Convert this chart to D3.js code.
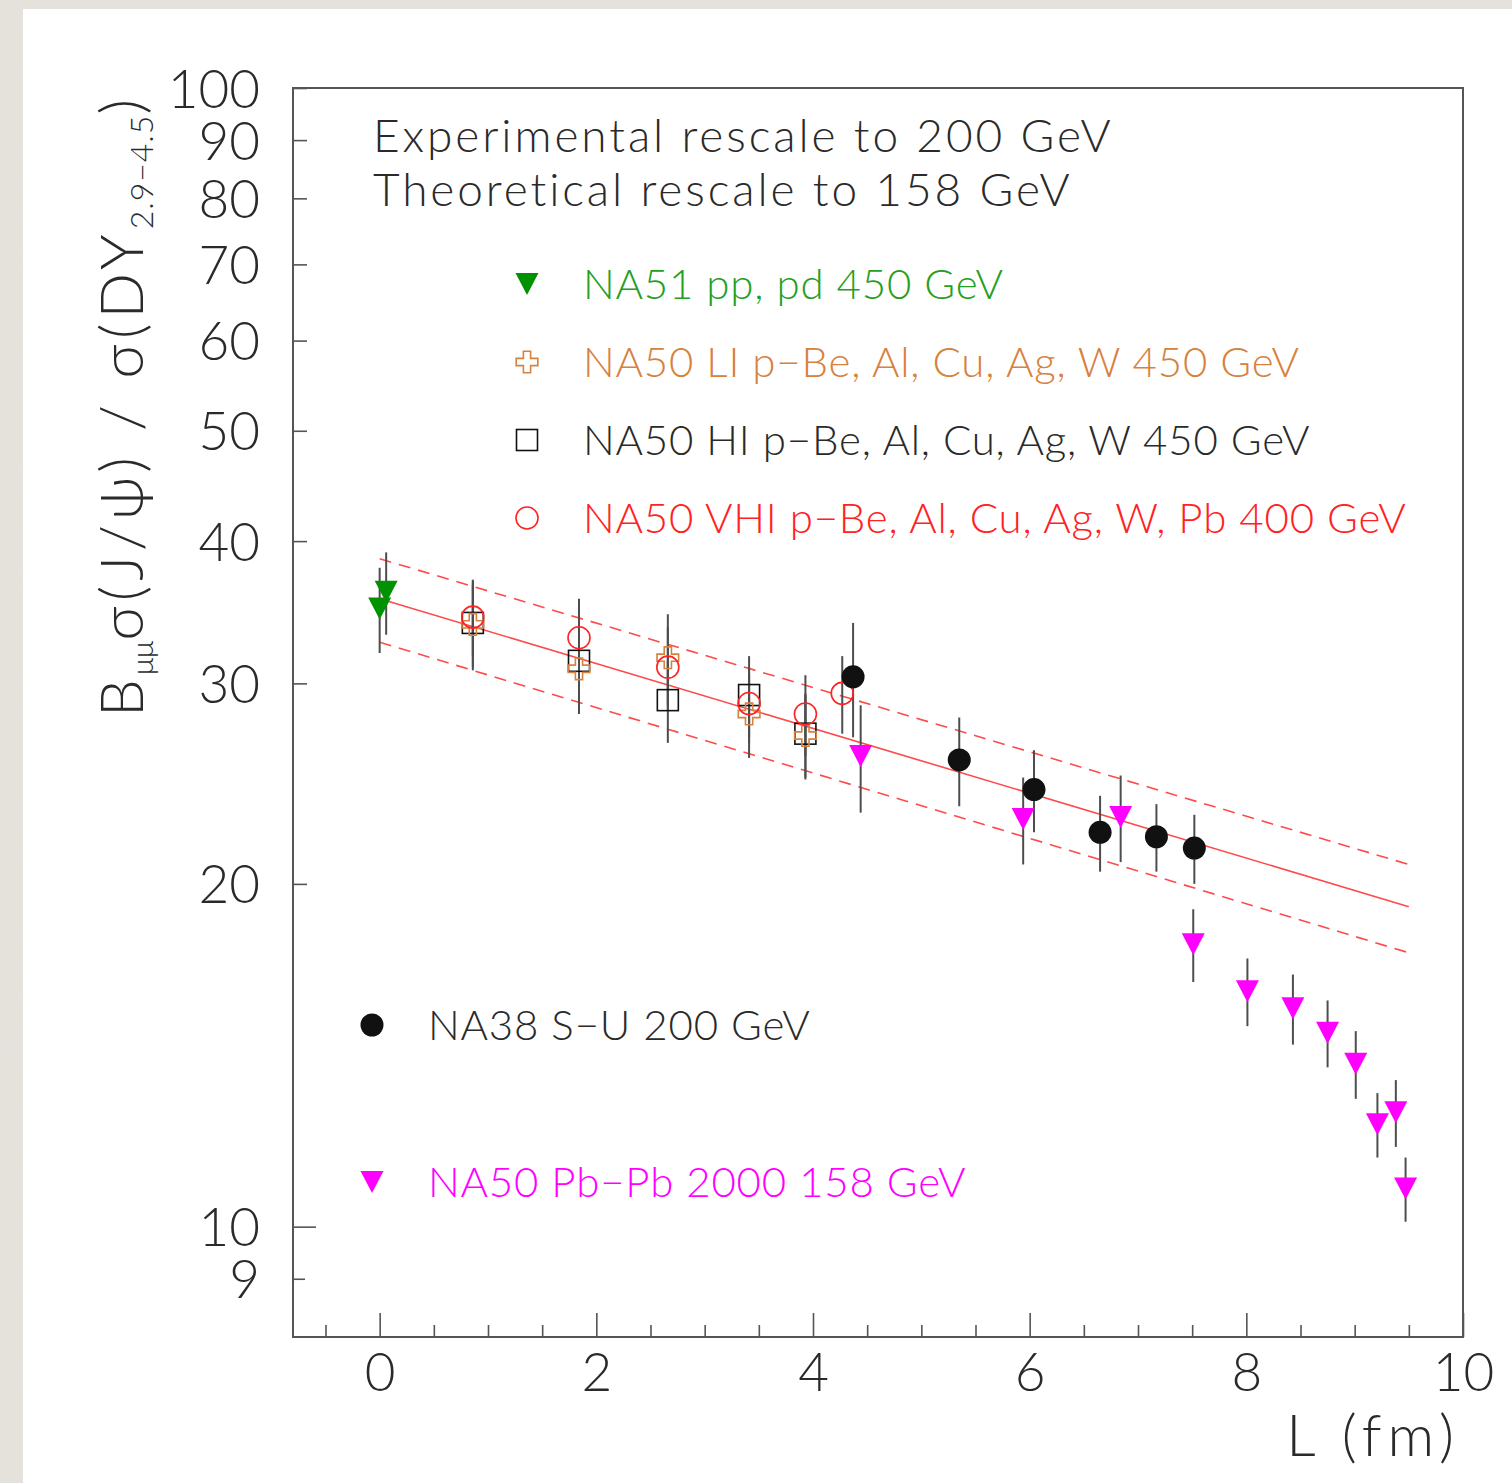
<!DOCTYPE html>
<html>
<head>
<meta charset="utf-8">
<script src="https://cdn.jsdelivr.net/npm/d3@7"></script>
<style>
  html, body { margin: 0; padding: 0; background: #ffffff; }
  svg { display: block; }
</style>
</head>
<body>
<script>
// ---- Axis settings ----
const xDomain = [-0.8, 10];
const yDomain = [8, 100];
const xTickValues = d3.range(-0.5, 10.01, 0.5);
const xTickLabels = [0, 2, 4, 6, 8, 10];
const yTickValues = [9, 10, 20, 30, 40, 50, 60, 70, 80, 90, 100];
const yTickLabels = [9, 10, 20, 30, 40, 50, 60, 70, 80, 90, 100];

// ---- NA51 pp, pd 450 GeV ----
const na51L = [0.00, 0.06];
const na51Y = [34.9, 36.1];
const na51E = [3.0, 3.0];

// ---- NA50 LI p-A 450 GeV (Be, Al, Cu, Ag, W) ----
const liL = [0.86, 1.84, 2.66, 3.41, 3.93];
const liY = [33.8, 30.9, 31.6, 28.2, 27.0];
const liE = [2.8, 2.7, 2.9, 2.4, 2.3];

// ---- NA50 HI p-A 450 GeV (Be, Al, Cu, Ag, W) ----
const hiL = [0.86, 1.84, 2.66, 3.41, 3.93];
const hiY = [33.9, 31.4, 29.0, 29.3, 27.1];
const hiE = [3.1, 2.5, 2.4, 2.4, 2.3];

// ---- NA50 VHI p-A 400 GeV (Be, Al, Cu, Ag, W, Pb) ----
const vhiL = [0.86, 1.84, 2.66, 3.41, 3.93, 4.27];
const vhiY = [34.3, 32.9, 31.0, 28.8, 28.2, 29.4];
const vhiE = [2.6, 2.7, 2.6, 2.2, 2.3, 2.3];

// ---- NA38 S-U 200 GeV ----
const na38L = [4.37, 5.35, 6.04, 6.65, 7.17, 7.52];
const na38Y = [30.4, 25.7, 24.2, 22.2, 22.0, 21.5];
const na38E = [3.5, 2.3, 2.0, 1.7, 1.5, 1.5];

// ---- NA50 Pb-Pb 2000 158 GeV ----
const pbL = [4.44, 5.94, 6.84, 7.51, 8.01, 8.43, 8.75, 9.01, 9.21, 9.38, 9.47];
const pbY = [25.9, 22.8, 22.9, 17.7, 16.1, 15.55, 14.8, 13.9, 12.3, 12.6, 10.8];
const pbE = [2.8, 2.0, 2.0, 1.3, 1.1, 1.1, 1.0, 0.95, 0.8, 0.85, 0.7];

// ---- Absorption fit (exponential: straight on a log axis) and its band ----
const fitL = [0, 9.5];
const fitMid = [35.6, 19.1];
const fitHi = [38.6, 20.8];
const fitLo = [32.6, 17.4];

// ---- Text ----
const headerLines = ["Experimental rescale to 200 GeV", "Theoretical rescale to 158 GeV"];
const legendLabels = [
  "NA51 pp, pd 450 GeV",
  "NA50 LI p\u2212Be, Al, Cu, Ag, W 450 GeV",
  "NA50 HI p\u2212Be, Al, Cu, Ag, W 450 GeV",
  "NA50 VHI p\u2212Be, Al, Cu, Ag, W, Pb 400 GeV",
  "NA38 S\u2212U 200 GeV",
  "NA50 Pb\u2212Pb 2000 158 GeV"
];

// ---- Layout ----
const W = 1512, H = 1483;
const frame = { left: 293, right: 1463, top: 88, bottom: 1337 };
const FONT = "Lato, 'DejaVu Sans', sans-serif";
const WEIGHT = 300;
const C = {
  green: "#009200", greenText: "#23a023",
  orange: "#d7813f", black: "#111111",
  red: "#ff2222", magenta: "#ff00ff",
  fit: "#ff4a4a", err: "#4d4d4d", axis: "#555555", text: "#2a2a2a"
};
const MS = 23; // marker size

const svg = d3.select("body").append("svg").attr("width", W).attr("height", H);

// paper-like surround and white page
const defs = svg.append("defs");
const f = defs.append("filter").attr("id", "paper").attr("x", 0).attr("y", 0).attr("width", "100%").attr("height", "100%");
f.append("feTurbulence").attr("type", "fractalNoise").attr("baseFrequency", 0.05).attr("numOctaves", 3).attr("seed", 4).attr("result", "n");
f.append("feColorMatrix").attr("in", "n").attr("type", "matrix")
  .attr("values", "0 0 0 0 0.78  0 0 0 0 0.77  0 0 0 0 0.74  0.35 0 0 0 0");
svg.append("rect").attr("width", W).attr("height", H).attr("fill", "#e5e2dc");
svg.append("rect").attr("width", W).attr("height", H).attr("filter", "url(#paper)").attr("opacity", 0.45);
svg.append("rect").attr("x", 23).attr("y", 9).attr("width", W - 23).attr("height", H - 9).attr("fill", "#ffffff");

const x = d3.scaleLinear().domain(xDomain).range([frame.left, frame.right]);
const y = d3.scaleLog().domain(yDomain).range([frame.bottom, frame.top]);

// ---- Axes ----
const fmtX = d => (xTickLabels.includes(d) ? String(d) : "");
const xAxis = d3.axisBottom(x).tickValues(xTickValues).tickSize(-12).tickPadding(16).tickFormat(fmtX);
const gx = svg.append("g").attr("transform", `translate(0,${frame.bottom})`).call(xAxis);
gx.selectAll(".tick line").attr("y2", d => (Number.isInteger(d) && d % 2 === 0 ? -24 : -12));
gx.selectAll(".tick text").attr("font-size", 53).attr("font-family", FONT).attr("font-weight", WEIGHT)
  .attr("fill", C.text).attr("dy", "0.72em");

const fmtY = d => (yTickLabels.includes(d) ? String(d) : "");
const yAxis = d3.axisLeft(y).tickValues(yTickValues).tickSize(-14).tickPadding(33).tickFormat(fmtY);
const gy = svg.append("g").attr("transform", `translate(${frame.left},0)`).call(yAxis);
gy.selectAll(".tick line").attr("x2", d => (d === 10 ? 23 : d === 9 ? 12 : 14));
gy.selectAll(".tick text").attr("font-size", 53).attr("font-family", FONT).attr("font-weight", WEIGHT)
  .attr("fill", C.text).attr("dy", "0.36em");

[gx, gy].forEach(g => {
  g.select(".domain").remove();
  g.selectAll(".tick line").attr("stroke", C.axis).attr("stroke-width", 1.6);
});

// frame
svg.append("rect")
  .attr("x", frame.left).attr("y", frame.top)
  .attr("width", frame.right - frame.left).attr("height", frame.bottom - frame.top)
  .attr("fill", "none").attr("stroke", C.axis).attr("stroke-width", 2);

// axis titles
svg.append("text")
  .attr("x", 1460).attr("y", 1456).attr("text-anchor", "end")
  .attr("font-family", FONT).attr("font-weight", WEIGHT).attr("font-size", 58).attr("fill", C.text)
  .attr("letter-spacing", 6)
  .text("L (fm)");

const yt = svg.append("text")
  .attr("transform", "translate(143,408) rotate(-90)")
  .attr("text-anchor", "middle")
  .attr("font-family", FONT).attr("font-weight", WEIGHT).attr("font-size", 60).attr("fill", C.text);
yt.append("tspan").attr("letter-spacing", 4).text("B");
yt.append("tspan").attr("font-size", 29).attr("letter-spacing", 0).attr("dy", 10).text("\u03bc\u03bc");
yt.append("tspan").attr("dy", -10).attr("letter-spacing", 5).text("\u03c3(J/\u03c8) / \u03c3(DY");
yt.append("tspan").attr("font-size", 32).attr("letter-spacing", 1).attr("dy", 10).text("2.9\u22124.5");
yt.append("tspan").attr("dy", -10).text(")");

// ---- Fit lines ----
const fitLine = d3.line().x(d => x(d[0])).y(d => y(d[1]));
const plot = svg.append("g");
[[fitMid, null], [fitHi, "12,8"], [fitLo, "12,8"]].forEach(([vals, dash]) => {
  plot.append("path")
    .datum(fitL.map((l, i) => [l, vals[i]]))
    .attr("d", fitLine)
    .attr("fill", "none").attr("stroke", C.fit).attr("stroke-width", 1.6)
    .attr("stroke-dasharray", dash);
});

// ---- Markers ----
function rows(L, V, E) { return L.map((l, i) => ({ l, v: V[i], e: E[i] })); }

function errorBars(data) {
  plot.append("g").selectAll("line").data(data).join("line")
    .attr("x1", d => x(d.l)).attr("x2", d => x(d.l))
    .attr("y1", d => y(d.v + d.e)).attr("y2", d => y(d.v - d.e))
    .attr("stroke", C.err).attr("stroke-width", 2);
}

const tri = `M${-MS / 2},${-MS / 2 + 0.5}L${MS / 2},${-MS / 2 + 0.5}L0,${MS / 2 - 0.5}Z`;
const crossPath = d3.symbol(d3.symbolCross, 260)();

const shapes = {
  triangle: (g, col) => g.append("path").attr("d", tri).attr("fill", col),
  dot: (g, col) => g.append("circle").attr("r", MS / 2).attr("fill", col),
  square: (g, col) => g.append("rect").attr("x", -MS / 2 + 1).attr("y", -MS / 2 + 1)
    .attr("width", MS - 2).attr("height", MS - 2).attr("fill", "none").attr("stroke", col).attr("stroke-width", 1.6),
  ring: (g, col) => g.append("circle").attr("r", MS / 2 - 0.5).attr("fill", "none").attr("stroke", col).attr("stroke-width", 1.6),
  cross: (g, col) => g.append("path").attr("d", crossPath).attr("fill", "none").attr("stroke", col).attr("stroke-width", 1.6)
};

function markers(data, shape, col) {
  plot.append("g").selectAll("g").data(data).join("g")
    .attr("transform", d => `translate(${x(d.l)},${y(d.v)})`)
    .each(function () { shapes[shape](d3.select(this), col); });
}

const series = [
  { data: rows(hiL, hiY, hiE), shape: "square", col: C.black },
  { data: rows(liL, liY, liE), shape: "cross", col: C.orange },
  { data: rows(vhiL, vhiY, vhiE), shape: "ring", col: C.red },
  { data: rows(na51L, na51Y, na51E), shape: "triangle", col: C.green },
  { data: rows(na38L, na38Y, na38E), shape: "dot", col: C.black },
  { data: rows(pbL, pbY, pbE), shape: "triangle", col: C.magenta }
];
series.forEach(s => errorBars(s.data));
series.forEach(s => markers(s.data, s.shape, s.col));

// ---- Header ----
svg.append("g").selectAll("text").data(headerLines).join("text")
  .attr("x", 373).attr("y", (d, i) => 152 + i * 54)
  .attr("font-family", FONT).attr("font-weight", WEIGHT).attr("font-size", 46).attr("fill", C.text)
  .attr("letter-spacing", 2.9)
  .text(d => d);

// ---- Legend ----
const legend = [
  { label: legendLabels[0], shape: "triangle", col: C.green, text: C.greenText, mx: 527, my: 284 },
  { label: legendLabels[1], shape: "cross", col: C.orange, text: C.orange, mx: 527, my: 362 },
  { label: legendLabels[2], shape: "square", col: C.black, text: C.text, mx: 527, my: 440 },
  { label: legendLabels[3], shape: "ring", col: C.red, text: C.red, mx: 527, my: 518 },
  { label: legendLabels[4], shape: "dot", col: C.black, text: C.text, mx: 372, my: 1025 },
  { label: legendLabels[5], shape: "triangle", col: C.magenta, text: C.magenta, mx: 372, my: 1182 }
];
const lg = svg.append("g").selectAll("g").data(legend).join("g");
lg.each(function (d) {
  const g = d3.select(this);
  const m = g.append("g").attr("transform", `translate(${d.mx},${d.my})`);
  shapes[d.shape](m, d.col);
  g.append("text")
    .attr("x", d.mx + 56).attr("y", d.my + 15)
    .attr("font-family", FONT).attr("font-weight", WEIGHT).attr("font-size", 42).attr("fill", d.text)
    .attr("letter-spacing", 0.8)
    .text(d.label);
});
</script>
</body>
</html>
